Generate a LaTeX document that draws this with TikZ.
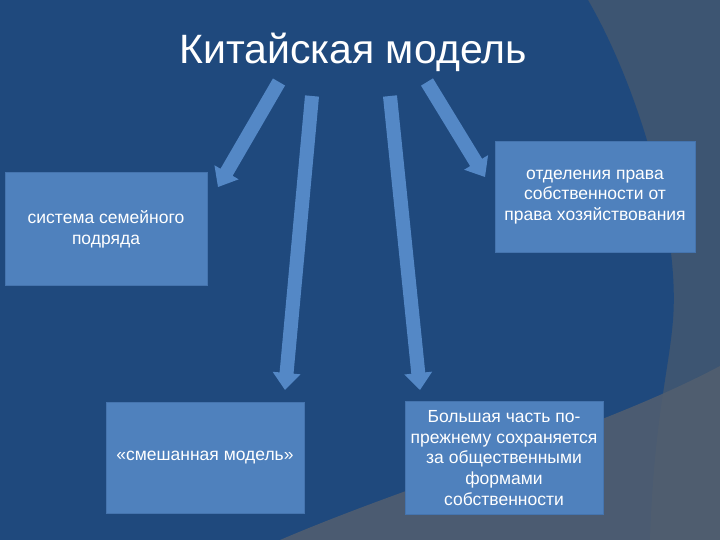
\documentclass[tikz,border=0pt]{standalone}
\usepackage{fontspec}
\setmainfont{Liberation Sans}
\usetikzlibrary{calc}
\definecolor{navy}{HTML}{1F497D}
\definecolor{slate}{HTML}{3D5572}
\definecolor{greyov}{HTML}{535F6F}
\definecolor{boxblue}{HTML}{4F81BD}
\definecolor{boxedge}{HTML}{4574AE}
\definecolor{arrowblue}{HTML}{5488C6}
\tikzset{
  box/.style={fill=boxblue, draw=boxedge, line width=1pt, text=white,
    font=\fontsize{17.5}{20.8}\selectfont, align=center, inner sep=0pt},
  arrowfill/.style={fill=arrowblue}
}
\newcommand\blockarrow[2]{%
  \fill[arrowfill] let \p1=($(#2)-(#1)$), \n1={veclen(\x1,\y1)}, \n2={atan2(\y1,\x1)} in
    [shift={(#1)}, rotate=\n2] (0pt,7pt) -- ({\n1-17},7pt) -- ({\n1-17},14pt) -- (\n1,0pt)
    -- ({\n1-17},-14pt) -- ({\n1-17},-7pt) -- (0pt,-7pt) -- cycle;}
\begin{document}
\begin{tikzpicture}[x=1pt,y=-1pt]
\useasboundingbox (0,0) rectangle (720,540);
% background
\fill[slate] (0,0) rectangle (720,540);
\fill[navy] (0,0) -- (588,0) .. controls (640,90) and (680,230) .. (673,320)
  .. controls (669,370) and (654,420) .. (650,540) -- (0,540) -- cycle;
\fill[greyov, opacity=0.85] (720,366) .. controls (600,430) and (420,480) .. (280,540)
  -- (720,540) -- cycle;
% title
\node[font=\fontsize{41}{48}\selectfont, text=white, anchor=base, inner sep=0pt] (title) at (353,64) {Китайская модель};
% boxes
\node[box, minimum width=202pt, minimum height=112pt] (b1) at (106,229) {система семейного\\подряда};
\node[box, minimum width=200pt, minimum height=110pt] (b2) at (595,197) {отделения права\\собственности от\\права хозяйствования};
\node[box, minimum width=198pt, minimum height=111pt] (b3) at (205,457.5) {«смешанная модель»};
\node[box, minimum width=198pt, minimum height=113pt] (b4) at (504,458) {Большая часть по-\\прежнему сохраняется\\за общественными\\формами\\собственности};
% arrow end points
\coordinate (t1) at (279,82);  \coordinate (h1) at (218,187);
\coordinate (t2) at (312,96);  \coordinate (h2) at (285,390);
\coordinate (t3) at (390,96);  \coordinate (h3) at (420,390);
\coordinate (t4) at (427,82);  \coordinate (h4) at (485,177);
\blockarrow{t1}{h1}
\blockarrow{t2}{h2}
\blockarrow{t3}{h3}
\blockarrow{t4}{h4}
\end{tikzpicture}
\end{document}
